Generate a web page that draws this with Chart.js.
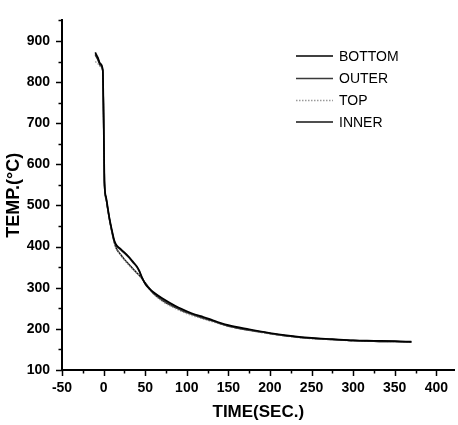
<!DOCTYPE html>
<html>
<head>
<meta charset="utf-8">
<script src="https://cdn.jsdelivr.net/npm/chart.js@4"></script>
<style>
html,body{margin:0;padding:0;background:#fff;}
#wrap{width:458px;height:425px;position:relative;}
</style>
</head>
<body>
<div id="wrap"><canvas id="c"></canvas></div>
<script>
const times = [-10, -7, -4, -1, 0, 1, 3, 5, 7, 10, 13, 15, 20, 25, 30, 35, 40, 43, 46, 50, 55, 60, 70, 80, 90, 100, 110, 120, 130, 140, 150, 175, 200, 225, 250, 275, 300, 325, 350, 370];
const bottomTemp = [872, 860, 845, 830, 720, 560, 520, 495, 470, 440, 414, 405, 395, 386, 376, 364, 352, 341, 326, 310, 298, 289, 275, 263, 252, 243, 235, 229, 222, 215, 209, 199, 190, 183, 178, 175, 172, 171, 170, 169];
const outerTemp  = [868, 858, 843, 828, 715, 556, 518, 492, 468, 437, 412, 403, 393, 384, 374, 362, 350, 339, 325, 309, 297, 287, 272, 260, 249, 240, 233, 226, 220, 213, 207, 197, 189, 182, 177, 174, 172, 170, 169, 168];
const topTemp    = [850, 845, 838, 826, 710, 552, 515, 490, 465, 435, 408, 396, 381, 367, 356, 345, 335, 329, 322, 311, 297, 285, 268, 256, 246, 237, 230, 224, 218, 212, 206, 196, 188, 181, 176, 174, 171, 170, 169, 168];
const innerTemp  = [866, 855, 840, 827, 712, 554, 516, 491, 466, 436, 409, 397, 382, 369, 358, 347, 336, 330, 323, 312, 299, 286, 270, 258, 249, 240, 233, 227, 220, 213, 207, 197, 189, 182, 177, 174, 172, 170, 169, 168];
const seriesNames = ['BOTTOM', 'OUTER', 'TOP', 'INNER'];
const xTickValues = [-50, 0, 50, 100, 150, 200, 250, 300, 350, 400];
const yTickValues = [100, 200, 300, 400, 500, 600, 700, 800, 900];

const toPts = arr => times.map((t, i) => ({x: t, y: arr[i]}));
const styles = [
  {color: '#000000', width: 1.7, dash: []},
  {color: '#3a3a3a', width: 1.5, dash: []},
  {color: '#9a9a9a', width: 1.4, dash: [1.5, 1.5]},
  {color: '#151515', width: 1.5, dash: []}
];
const allSeries = [bottomTemp, outerTemp, topTemp, innerTemp];

const tickFont = {family: "'Liberation Sans',Arial,sans-serif", size: 14, weight: 'bold'};

const tickMarks = {
  id: 'tickMarks',
  afterDraw(chart) {
    const ctx = chart.ctx;
    const xs = chart.scales.x, ys = chart.scales.y;
    ctx.save();
    ctx.strokeStyle = '#000';
    ctx.lineWidth = 1.5;
    const yAxis = ys.bottom;
    for (let v = -50; v <= 420; v += 25) {
      const px = Math.round(xs.getPixelForValue(v)) + 0.5;
      const len = (v % 50 === 0) ? 6 : 3.5;
      ctx.beginPath(); ctx.moveTo(px, yAxis); ctx.lineTo(px, yAxis + len); ctx.stroke();
    }
    const xAxis = xs.left;
    for (let v = 100; v <= 950; v += 50) {
      const py = Math.round(ys.getPixelForValue(v)) + 0.5;
      const len = (v % 100 === 0) ? 6 : 3.5;
      ctx.beginPath(); ctx.moveTo(xAxis, py); ctx.lineTo(xAxis - len, py); ctx.stroke();
    }
    // legend
    const rows = [56, 78.5, 100.5, 122];
    ctx.font = "14px 'Liberation Sans', Arial, sans-serif";
    ctx.textBaseline = 'middle';
    ctx.fillStyle = '#000';
    chart.data.datasets.forEach((ds, i) => {
      const y = rows[i];
      ctx.beginPath();
      ctx.strokeStyle = ds.borderColor;
      ctx.lineWidth = ds.borderWidth;
      ctx.setLineDash(ds.borderDash || []);
      ctx.moveTo(296, y); ctx.lineTo(333, y); ctx.stroke();
      ctx.setLineDash([]);
      ctx.fillText(ds.label, 339, y + 1);
    });
    ctx.restore();
  }
};

new Chart(document.getElementById('c'), {
  type: 'line',
  data: {
    datasets: seriesNames.map((name, i) => ({
      label: name,
      data: toPts(allSeries[i]),
      borderColor: styles[i].color,
      borderWidth: styles[i].width,
      borderDash: styles[i].dash,
      pointRadius: 0,
      fill: false,
      cubicInterpolationMode: 'monotone'
    }))
  },
  options: {
    responsive: true,
    maintainAspectRatio: false,
    animation: false,
    layout: {padding: {left: 0, right: 0, top: 7, bottom: 0}},
    plugins: {legend: {display: false}, tooltip: {enabled: false}},
    scales: {
      x: {
        type: 'linear', position: 'bottom', min: -50, max: 422,
        grid: {display: false, drawTicks: false},
        border: {display: true, color: '#000', width: 2},
        afterBuildTicks: s => { s.ticks = xTickValues.map(v => ({value: v})); },
        afterFit: s => { s.height = 55; },
        ticks: {color: '#000', font: tickFont, padding: 10, maxRotation: 0, autoSkip: false},
        title: {display: true, text: 'TIME(SEC.)', color: '#000',
          font: {family: "'Liberation Sans',Arial,sans-serif", size: 17, weight: 'bold'}, padding: {top: 0, bottom: 2}}
      },
      y: {
        type: 'linear', position: 'left', min: 100, max: 950,
        grid: {display: false, drawTicks: false},
        border: {display: true, color: '#000', width: 2},
        afterBuildTicks: s => { s.ticks = yTickValues.map(v => ({value: v})); },
        afterFit: s => { s.width = 62; },
        ticks: {color: '#000', font: tickFont, padding: 12, autoSkip: false},
        title: {display: true, text: 'TEMP.(\u00B0C)', color: '#000',
          font: {family: "'Liberation Sans',Arial,sans-serif", size: 18, weight: 'bold'}, padding: {top: 3, bottom: 0}}
      }
    }
  },
  plugins: [tickMarks]
});
</script>
</body>
</html>
